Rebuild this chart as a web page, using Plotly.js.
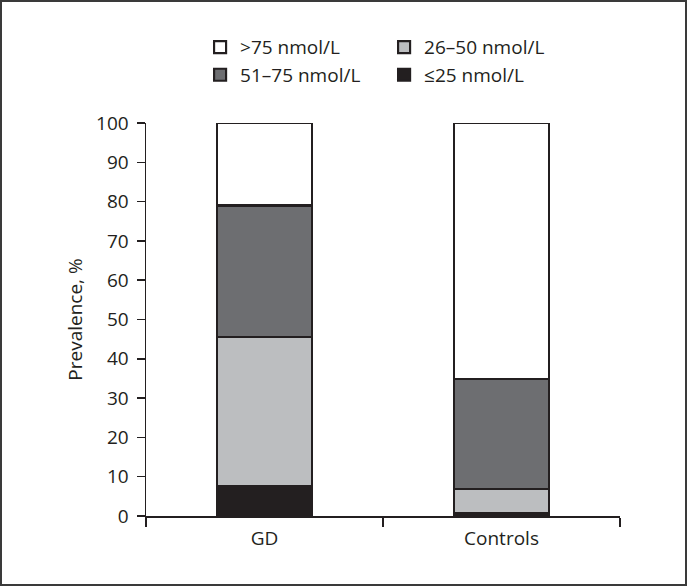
<!DOCTYPE html>
<html>
<head>
<meta charset="utf-8">
<script src="https://cdn.plot.ly/plotly-3.0.1.min.js"></script>
<style>
  html, body { margin: 0; padding: 0; background: #fff; }
  #frame { position: absolute; left: 0; top: 0; width: 683px; height: 582px; border: 2px solid #3a3a3a; }
  #chart { width: 683px; height: 582px; }
</style>
</head>
<body>
<div id="frame"><div id="chart"></div></div>
<script>
const categories = ["GD", "Controls"];
const seriesNames = ["≤25 nmol/L", "26–50 nmol/L", "51–75 nmol/L", ">75 nmol/L"];
const le25 = [7.5, 0.8];
const v26to50 = [38, 6];
const v51to75 = [33.5, 28];
const gt75 = [21, 65.2];
const tickVals = [0, 10, 20, 30, 40, 50, 60, 70, 80, 90, 100];

const seriesValues = [le25, v26to50, v51to75, gt75];
const fills = ["#231f20", "#bcbec0", "#6d6e71", "#ffffff"];
const ranks = [4, 2, 3, 1];
const ink = "#231f20";

const traces = seriesNames.map((name, i) => ({
  type: "bar",
  name: name,
  x: categories,
  y: seriesValues[i],
  width: 0.4,
  legendrank: ranks[i],
  marker: { color: fills[i], line: { color: ink, width: 2.2 } },
  hoverinfo: "skip"
}));

const layout = {
  width: 683,
  height: 582,
  barmode: "stack",
  paper_bgcolor: "#ffffff",
  plot_bgcolor: "#ffffff",
  font: { family: "Open Sans, Noto Sans, sans-serif", size: 19, color: ink },
  margin: { l: 144, r: 65, t: 121, b: 68, pad: 0 },
  showlegend: true,
  legend: {
    orientation: "h",
    xref: "container", yref: "container",
    x: 0.29, y: 0.955,
    xanchor: "left", yanchor: "top",
    entrywidth: 139, entrywidthmode: "pixels",
    traceorder: "normal",
    font: { size: 19, color: ink },
    bgcolor: "rgba(0,0,0,0)"
  },
  xaxis: {
    type: "category",
    range: [-0.5, 1.5],
    tickson: "boundaries",
    ticks: "outside", ticklen: 9, tickwidth: 1.5, tickcolor: ink,
    showline: true, linecolor: ink, linewidth: 1.5,
    showgrid: false, zeroline: false,
    tickfont: { size: 19, color: ink },
    ticklabelstandoff: 5,
    fixedrange: true
  },
  yaxis: {
    range: [0, 100],
    tickvals: tickVals,
    ticktext: tickVals.map(String),
    ticks: "outside", ticklen: 8, tickwidth: 1.5, tickcolor: ink,
    showline: true, linecolor: ink, linewidth: 1.5,
    showgrid: false, zeroline: false,
    tickfont: { size: 19, color: ink },
    ticklabelstandoff: 4,
    title: { text: "Prevalence, %", font: { size: 19, color: ink }, standoff: 8 },
    fixedrange: true
  }
};

Plotly.newPlot("chart", traces, layout, { displayModeBar: false, staticPlot: true });
</script>
</body>
</html>
